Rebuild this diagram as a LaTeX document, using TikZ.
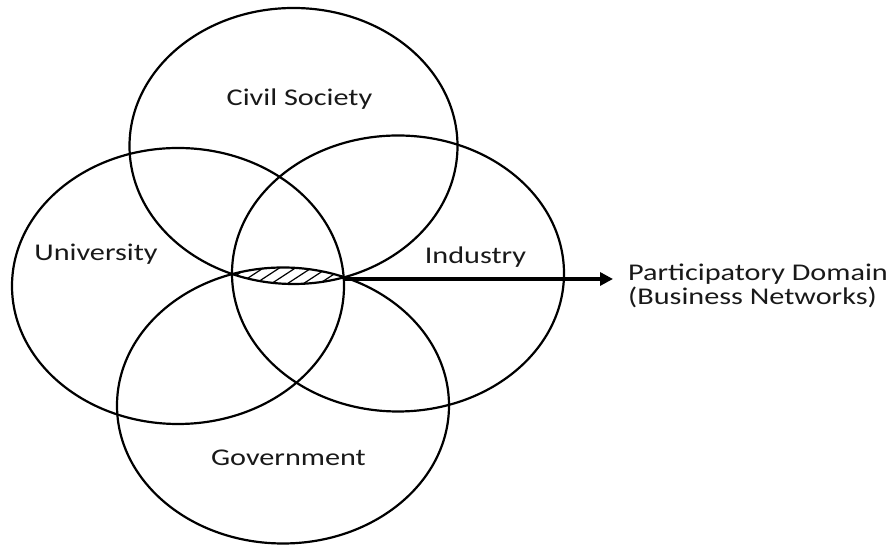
\documentclass[tikz,border=0pt]{standalone}
\usepackage{fontspec}
\setmainfont{Carlito}[FakeStretch=1.26]
\usetikzlibrary{arrows.meta,calc}

\begin{document}
\begin{tikzpicture}[x=1pt,y=1pt,
  setline/.style={line width=2.2pt},
  hatchline/.style={line width=1.2pt},
  lbl/.style={inner sep=0pt, font=\fontsize{24}{24}\selectfont, text=black!90},
  outarrow/.style={line width=3.2pt, -{Triangle[length=13pt,width=13pt]}}]

  \useasboundingbox (0,0) rectangle (891,545);

  % ellipse centres
  \coordinate (csc) at (293.5,399);
  \coordinate (unc) at (178,259);
  \coordinate (inc) at (398,271.5);
  \coordinate (goc) at (283,139.5);

  % common domain: inside Civil Society and Government (and hence all four)
  \begin{scope}
    \clip (csc) ellipse [x radius=164, y radius=138];
    \clip (goc) ellipse [x radius=166, y radius=138];
    \foreach \x in {190,206,...,350}
      \draw[hatchline] (\x,250) -- ++(46,30);
  \end{scope}

  % the four sets
  \draw[setline] (csc) ellipse [x radius=164, y radius=138];
  \draw[setline] (unc) ellipse [x radius=166, y radius=138];
  \draw[setline] (inc) ellipse [x radius=166, y radius=138];
  \draw[setline] (goc) ellipse [x radius=166, y radius=138];

  % labels
  \node[lbl, anchor=base] (cs) at (299.5,439) {Civil Society};
  \node[lbl, anchor=base] (un) at (96,284) {University};
  \node[lbl, anchor=base] (in) at (475.5,281) {Industry};
  \node[lbl, anchor=base] (go) at (288.5,79) {Government};
  \node[lbl, anchor=base west, align=left] (pd) at (628,240)
    {Participatory Domain\\(Business Networks)};

  % arrow from the shared domain to its description
  \coordinate (hr) at (343,266);
  \draw[outarrow] (hr) -- ($(hr -| pd.west)+(-15,0)$);
\end{tikzpicture}
\end{document}
